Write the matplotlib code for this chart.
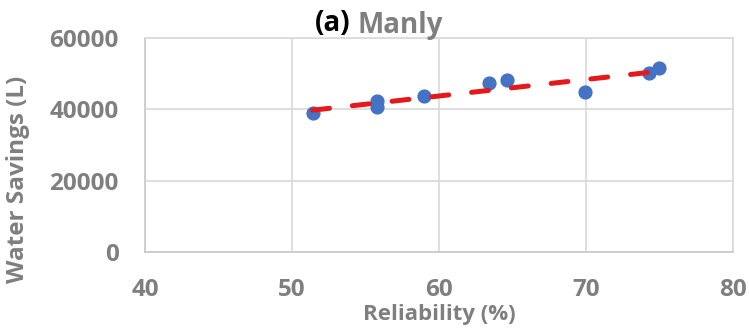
import numpy as np
import matplotlib.pyplot as plt

# Reliability (%) vs water savings (L)
reliability = [51.4, 55.8, 55.8, 59.0, 63.4, 64.6, 69.9, 74.3, 75.0]
savings = [38900, 42300, 40600, 43700, 47300, 48100, 44800, 50100, 51500]

x_ticks = [40, 50, 60, 70, 80]
y_ticks = [0, 20000, 40000, 60000]

gray = '#7f7f7f'
plt.rcParams['font.family'] = ['Open Sans', 'DejaVu Sans']

fig = plt.figure(figsize=(7.49, 3.31), dpi=100)
ax = fig.add_axes([0.1936, 0.2387, 0.7850, 0.6463])

ax.scatter(reliability, savings, s=85, color='#4472c4', zorder=3)

# linear trend line
k, m = np.polyfit(reliability, savings, 1)
xs = np.array([min(reliability), max(reliability)])
line, = ax.plot(xs, k * xs + m, color='#e3191c', lw=3.6, zorder=4,
                dash_capstyle='round')
line.set_dashes((3.4, 4.6))

ax.set_xlim(40, 80)
ax.set_ylim(0, 60000)
ax.set_xticks(x_ticks)
ax.set_yticks(y_ticks)
ax.grid(True, color='#d9d9d9', lw=1.2)
ax.set_axisbelow(True)
for s in ax.spines.values():
    s.set_color('#d9d9d9')
    s.set_linewidth(1.2)
ax.spines['left'].set_color('#c8c8c8')
ax.spines['bottom'].set_color('#c8c8c8')
ax.tick_params(length=0, labelsize=17.5, labelcolor=gray)
ax.tick_params(axis='x', pad=19)
ax.tick_params(axis='y', pad=19)
for lab in ax.get_xticklabels() + ax.get_yticklabels():
    lab.set_fontweight('bold')

ax.set_xlabel('Reliability (%)', fontsize=16, fontweight='bold', color=gray, labelpad=1)
ax.set_ylabel('Water Savings (L)', fontsize=17.5, fontweight='bold', color=gray)
ax.yaxis.set_label_coords(-0.196, 0.34)

fig.text(0.468, 0.928, '(a)', fontsize=20, fontweight='bold', color='black', ha='right', va='center')
fig.text(0.477, 0.922, 'Manly', fontsize=20, fontweight='bold', color=gray, ha='left', va='center')

fig.savefig('out.png', dpi=100)
